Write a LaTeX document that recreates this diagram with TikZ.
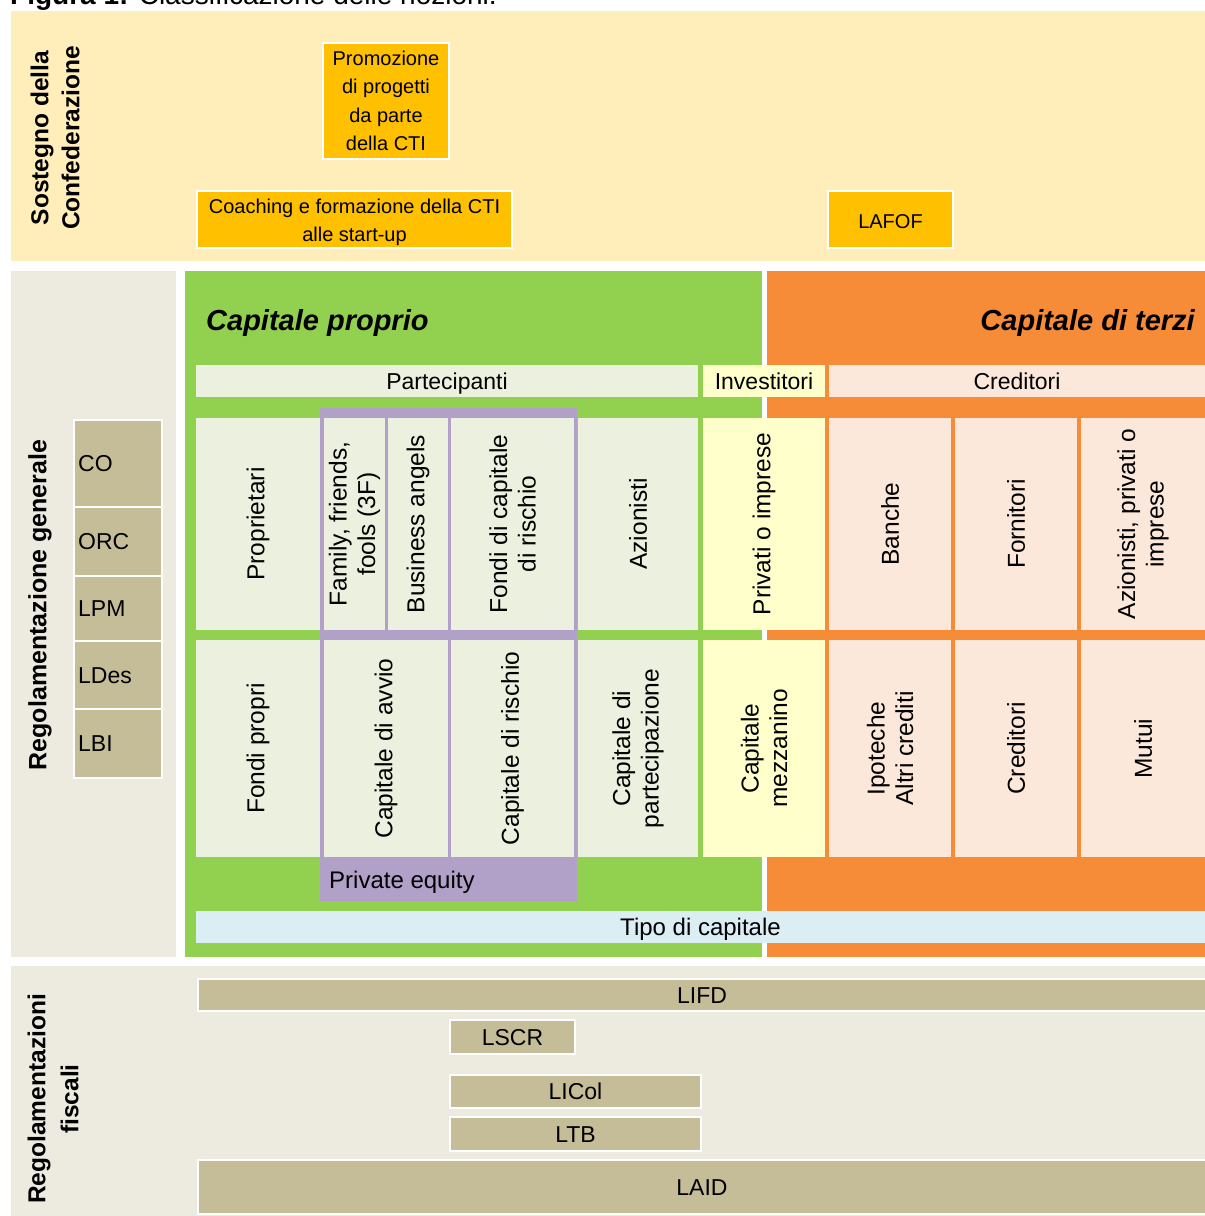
\documentclass[tikz,border=0pt]{standalone}
\usepackage{fontspec}
\setmainfont{Liberation Sans}
\definecolor{topbg}{HTML}{FFEDBA}
\definecolor{gold}{HTML}{FFC000}
\definecolor{beige}{HTML}{EDEAE0}
\definecolor{tan}{HTML}{C4BD97}
\definecolor{grn}{HTML}{92D050}
\definecolor{org}{HTML}{F68C37}
\definecolor{lgreen}{HTML}{EBF0DF}
\definecolor{lyellow}{HTML}{FFFFCC}
\definecolor{peach}{HTML}{FCE8DA}
\definecolor{purp}{HTML}{B1A0C7}
\definecolor{lblue}{HTML}{DBEEF3}
\newcommand\fsBody{\fontsize{23}{28}\selectfont}
\newcommand\fsRot{\fontsize{24.5}{28.5}\selectfont}
\newcommand\fsGold{\fontsize{20}{28.5}\selectfont}
\newcommand\RBox[7]{%
  \pgfmathsetmacro\bxc{(#3+#5)/2}%
  \pgfmathsetmacro\byc{(#4+#6)/2}%
  \pgfmathsetmacro\bxw{#5-#3}%
  \pgfmathsetmacro\byh{#6-#4}%
  \node[#2, minimum width=\bxw pt, minimum height=\byh pt] (#1) at (\bxc,\byc) {#7};}
\tikzset{
  base/.style={rectangle, inner sep=0pt, outer sep=0pt},
  capsc/.style={text height=16.5pt, text depth=0pt},
  goldbox/.style={base, fill=gold, draw=white, line width=2pt, font=\fsGold, align=center},
  tanbox/.style={base, fill=tan, draw=white, line width=2pt, font=\fsBody, capsc},
  cellg/.style={base, fill=lgreen, font=\fsBody, capsc},
  celly/.style={base, fill=lyellow, font=\fsBody, capsc},
  cellp/.style={base, fill=peach, font=\fsBody, capsc},
  rtext/.style={rotate=90, align=center, font=\fsRot, inner sep=0pt},
  gtext/.style={align=center, font=\fsGold, inner sep=0pt},
  sidelabel/.style={rotate=90, align=center, inner sep=0pt},
  headit/.style={inner sep=0pt, font=\bfseries\itshape\fontsize{29}{34}\selectfont},
  ltext/.style={inner sep=0pt, anchor=west, font=\fsBody, capsc},
}
\begin{document}
\begin{tikzpicture}[x=1pt,y=-1pt]
\useasboundingbox (0,0) rectangle (1205,1216);
% caption (cut off at the top, as in the source)
\node[anchor=base west, inner sep=0pt, font=\fontsize{28}{30}\selectfont] (cap) at (10,4) {\textbf{Figura 1:} Classificazione delle nozioni.};
% ---------- panels
\RBox{top}{base, fill=topbg}{11}{11}{1205}{261}{}
\RBox{regpanel}{base, fill=beige}{11}{271}{176}{957}{}
\RBox{greenpanel}{base, fill=grn}{185}{271}{762}{957}{}
\RBox{orangepanel}{base, fill=org}{767}{271}{1205}{957}{}
\RBox{fiscpanel}{base, fill=beige}{11}{966}{1205}{1216}{}
% ---------- top panel
\node[sidelabel, font=\bfseries\fontsize{24.5}{31}\selectfont] (sost) at (55,138) {Sostegno della\\Confederazione};
\RBox{promo}{goldbox}{323}{43}{449}{159}{Promozione\\di progetti\\da parte\\della CTI}
\RBox{coach}{goldbox}{197}{191}{512}{248}{}
\node[gtext] (coach-t) at ([yshift=-3pt]coach.center) {Coaching e formazione della CTI\\alle start-up};
\RBox{lafof}{goldbox}{828}{191}{953}{248}{}
\node[gtext] (lafof-t) at ([yshift=-2pt]lafof.center) {LAFOF};
% ---------- general regulation
\node[sidelabel, font=\bfseries\fontsize{25}{30}\selectfont] (regl) at (40,605) {Regolamentazione generale};
\RBox{co}{tanbox}{74}{420}{162}{507}{}
\RBox{orc}{tanbox}{74}{507}{162}{576}{}
\RBox{lpm}{tanbox}{74}{576}{162}{641}{}
\RBox{ldes}{tanbox}{74}{641}{162}{709}{}
\RBox{lbi}{tanbox}{74}{709}{162}{778}{}
\node[ltext] (co-t) at ([xshift=4pt]co.west) {CO};
\node[ltext] (orc-t) at ([xshift=4pt]orc.west) {ORC};
\node[ltext] (lpm-t) at ([xshift=4pt]lpm.west) {LPM};
\node[ltext] (ldes-t) at ([xshift=4pt]ldes.west) {LDes};
\node[ltext] (lbi-t) at ([xshift=4pt]lbi.west) {LBI};
% ---------- headings
\node[headit, anchor=base west] (cp) at (206,330) {Capitale proprio};
\node[headit, anchor=base east] (ct) at (1195,330) {Capitale di terzi};
\RBox{part}{cellg}{196}{365}{698}{397}{Partecipanti}
\RBox{inv}{celly}{703}{365}{825}{397}{Investitori}
\RBox{cred}{cellp}{829}{365}{1205}{397}{Creditori}
% ---------- private equity frame
\RBox{pe}{base, fill=purp}{320}{408}{577}{901}{}
\node[inner sep=0pt, font=\fontsize{24}{28}\selectfont, anchor=base west] (pe-t) at (329,888) {Private equity};
% ---------- row 1
\RBox{prop}{cellg}{196}{418}{320}{630}{}
\RBox{fam}{cellg}{324}{418}{385}{630}{}
\RBox{bus}{cellg}{388}{418}{448}{630}{}
\RBox{fcr}{cellg}{451}{418}{574}{630}{}
\RBox{azi}{cellg}{578}{418}{698}{630}{}
\RBox{priv}{celly}{703}{418}{825}{630}{}
\RBox{banche}{cellp}{829}{418}{951}{630}{}
\RBox{forn}{cellp}{955}{418}{1077}{630}{}
\RBox{apoi}{cellp}{1081}{418}{1205}{630}{}
\node[rtext] (prop-t) at (prop.center) {Proprietari};
\node[rtext] (fam-t) at (fam.center) {Family, friends,\\fools (3F)};
\node[rtext] (bus-t) at (bus.center) {Business angels};
\node[rtext] (fcr-t) at (fcr.center) {Fondi di capitale\\di rischio};
\node[rtext] (azi-t) at (azi.center) {Azionisti};
\node[rtext] (priv-t) at (priv.center) {Privati o imprese};
\node[rtext] (banche-t) at (banche.center) {Banche};
\node[rtext] (forn-t) at (forn.center) {Fornitori};
\node[rtext] (apoi-t) at (apoi.center) {Azionisti, privati o\\imprese};
% ---------- row 2
\RBox{fp}{cellg}{196}{640}{320}{857}{}
\RBox{avvio}{cellg}{324}{640}{448}{857}{}
\RBox{risch}{cellg}{451}{640}{574}{857}{}
\RBox{cpart}{cellg}{578}{640}{698}{857}{}
\RBox{mezz}{celly}{703}{640}{825}{857}{}
\RBox{ipo}{cellp}{829}{640}{951}{857}{}
\RBox{cred2}{cellp}{955}{640}{1077}{857}{}
\RBox{mutui}{cellp}{1081}{640}{1205}{857}{}
\node[rtext] (fp-t) at (fp.center) {Fondi propri};
\node[rtext] (avvio-t) at (avvio.center) {Capitale di avvio};
\node[rtext] (risch-t) at (risch.center) {Capitale di rischio};
\node[rtext] (cpart-t) at (cpart.center) {Capitale di\\partecipazione};
\node[rtext] (mezz-t) at (mezz.center) {Capitale\\mezzanino};
\node[rtext] (ipo-t) at (ipo.center) {Ipoteche\\Altri crediti};
\node[rtext] (cred2-t) at (cred2.center) {Creditori};
\node[rtext] (mutui-t) at (mutui.center) {Mutui};
% ---------- capital type
\RBox{tipo}{base, fill=lblue, font=\fontsize{24}{28}\selectfont, text height=17pt, text depth=0pt}{196}{911}{1205}{943}{Tipo di capitale}
% ---------- fiscal regulation
\node[sidelabel, font=\bfseries\fontsize{24.5}{33}\selectfont] (fiscl) at (53,1099) {Regolamentazioni\\fiscali};
\RBox{lifd}{tanbox}{198}{979}{1206}{1011}{LIFD}
\RBox{lscr}{tanbox}{450}{1020}{575}{1054}{LSCR}
\RBox{licol}{tanbox}{450}{1075}{701}{1108}{LICol}
\RBox{ltb}{tanbox}{450}{1117}{701}{1151}{LTB}
\RBox{laid}{tanbox}{198}{1160}{1206}{1214}{LAID}
\end{tikzpicture}
\end{document}
